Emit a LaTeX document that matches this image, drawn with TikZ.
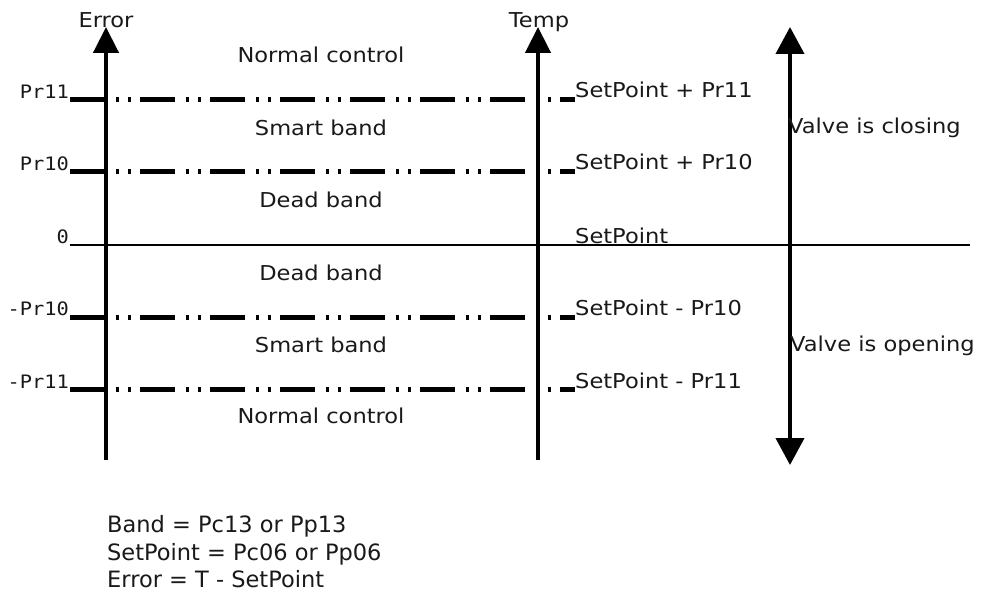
\documentclass[tikz,border=0pt]{standalone}
\usepackage{fontspec}
\setmainfont[FakeStretch=1.1]{DejaVu Sans}
\newfontfamily\monof[FakeStretch=1.1]{DejaVu Sans Mono}
\newfontfamily\plainf{DejaVu Sans}
\usetikzlibrary{arrows.meta}
\begin{document}
\begin{tikzpicture}[x=1pt,y=-1pt,
  axisline/.style={line width=4.5pt,-{Triangle[width=25pt,length=26pt]}},
  valveline/.style={line width=4pt,{Triangle[width=28pt,length=27pt]}-{Triangle[width=28pt,length=27pt]}},
  tickline/.style={line width=5pt},
  dashdotline/.style={line width=5pt,dash pattern=on 3pt off 9pt on 3pt off 9pt on 35pt off 11pt},
  zeroline/.style={line width=1.5pt},
  lbl/.style={inner sep=0pt,text=black!90,font=\fontsize{20.5}{22}\selectfont},
  monolbl/.style={inner sep=0pt,text=black!90,font=\monof\fontsize{18.5}{20}\selectfont,anchor=base east},
  rlbl/.style={lbl,anchor=base west},
  bandlbl/.style={lbl,anchor=base},
  notelbl/.style={inner sep=0pt,text=black!90,anchor=base west,font=\plainf\fontsize{22.5}{25}\selectfont}]
\useasboundingbox (0,0) rectangle (984,609);

% axis end points
\coordinate (eb) at (106,460);
\coordinate (et) at (106,27);
\coordinate (tb) at (538,460);
\coordinate (tt) at (538,27);
\coordinate (vt) at (790,27);
\coordinate (vb) at (790,465);

% level coordinates
\foreach \n/\y in {p11/100,p10/172,m10/317,m11/389}{
  \coordinate (\n L) at (70,\y);
  \coordinate (\n A) at (106,\y);
  \coordinate (\n S) at (116,\y);
  \coordinate (\n E) at (575,\y);
  \draw[tickline] (\n L) -- (\n A);
  \draw[dashdotline] (\n S) -- (\n E);
}
\coordinate (zL) at (70,245);
\coordinate (zE) at (970,245);
\draw[zeroline] (zL) -- (zE);

% axes
\draw[axisline] (eb) -- (et);
\draw[axisline] (tb) -- (tt);
\draw[valveline] (vb) -- (vt);

% axis titles
\node[lbl,anchor=base] (errt) at (106,28) {Error};
\node[lbl,anchor=base] (tempt) at (539,28) {Temp};

% left labels
\node[monolbl] (lp11) at (69,99) {Pr11};
\node[monolbl] (lp10) at (69,171) {Pr10};
\node[monolbl] (lz) at (69,244) {0};
\node[monolbl] (lm10) at (69,316) {-Pr10};
\node[monolbl] (lm11) at (69,388) {-Pr11};

% right labels
\node[rlbl] (rp11) at (575,98) {SetPoint + Pr11};
\node[rlbl] (rp10) at (575,170) {SetPoint + Pr10};
\node[rlbl] (rz) at (575,244) {SetPoint};
\node[rlbl] (rm10) at (575,316) {SetPoint - Pr10};
\node[rlbl] (rm11) at (575,388) {SetPoint - Pr11};

% band labels
\node[bandlbl] (b1) at (321,63) {Normal control};
\node[bandlbl] (b2) at (321,136) {Smart band};
\node[bandlbl] (b3) at (321,208) {Dead band};
\node[bandlbl] (b4) at (321,280) {Dead band};
\node[bandlbl] (b5) at (321,352) {Smart band};
\node[bandlbl] (b6) at (321,423) {Normal control};

% valve labels
\node[rlbl] (vc) at (788,134) {Valve is closing};
\node[rlbl] (vo) at (790,351) {Valve is opening};

% notes
\node[notelbl] (n1) at (107,532) {Band = Pc13 or Pp13};
\node[notelbl] (n2) at (107,560) {SetPoint = Pc06 or Pp06};
\node[notelbl] (n3) at (107,587) {Error = T - SetPoint};
\end{tikzpicture}
\end{document}
